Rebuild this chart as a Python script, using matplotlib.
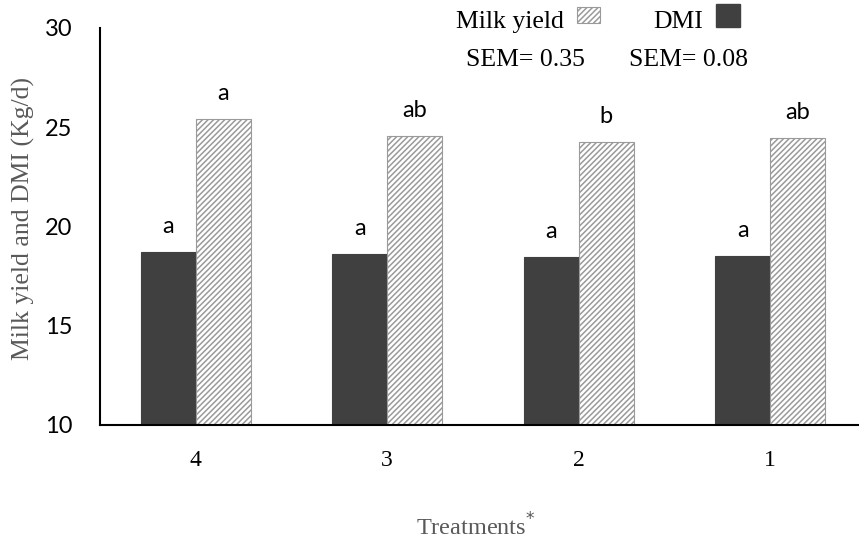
import numpy as np
import matplotlib.pyplot as plt
from matplotlib.patches import Rectangle

# values
treatments = ['4', '3', '2', '1']
dmi = [18.70, 18.60, 18.46, 18.50]
milk_yield = [25.41, 24.55, 24.26, 24.43]
dmi_letters = ['a', 'a', 'a', 'a']
milk_letters = ['a', 'ab', 'b', 'ab']
sem_milk = 0.35
sem_dmi = 0.08

W, H = 859, 541
fig = plt.figure(figsize=(W / 100, H / 100), dpi=100)


def fx(px):
    return px / W


def fy(py):
    return 1 - py / H


ax = fig.add_axes([fx(100), fy(424.5), fx(766), (424.5 - 28) / H])

x = np.arange(len(treatments))
w = 0.286
dark = '#404040'

plt.rcParams['hatch.color'] = '#333333'
plt.rcParams['hatch.linewidth'] = 1.1
ax.bar(x - w / 2, dmi, w, color=dark, edgecolor=dark, linewidth=0.8)
ax.bar(x + w / 2, milk_yield, w, color='white', edgecolor='#9a9a9a',
       hatch='//////', linewidth=0.8)

for xi, v, t in zip(x - w / 2, dmi, dmi_letters):
    ax.annotate(t, (xi, v), xytext=(0, 11), textcoords='offset points',
                ha='center', va='bottom', fontsize=17, family='Lato')
for xi, v, t in zip(x + w / 2, milk_yield, milk_letters):
    ax.annotate(t, (xi, v), xytext=(0, 11), textcoords='offset points',
                ha='center', va='bottom', fontsize=17, family='Lato')

ax.set_xlim(-0.5, 3.5)
ax.set_ylim(10, 30)
ax.set_yticks([10, 15, 20, 25, 30])
ax.set_xticks(x)
ax.set_xticklabels(treatments, family='Liberation Serif', fontsize=17)
for lab in ax.get_yticklabels():
    lab.set_family('Lato')
    lab.set_fontsize(17)
ax.tick_params(axis='y', length=0, pad=20)
ax.tick_params(axis='x', length=0, pad=18)

for s in ['top', 'right']:
    ax.spines[s].set_visible(False)
for s in ['left', 'bottom']:
    ax.spines[s].set_linewidth(1.5)
    ax.spines[s].set_color('black')

# axis titles
fig.text(fx(23), fy(219), 'Milk yield and DMI (Kg/d)', rotation=90,
         ha='center', va='center', color='#595959', fontsize=18.5,
         family='Liberation Serif')
fig.text(fx(476), fy(527), 'Treatments$^{*}$', ha='center', va='center',
         color='#595959', fontsize=17.5, family='Liberation Serif')

# legend drawn by hand, as in the reference
serif = dict(family='Liberation Serif', fontsize=18.5, color='black')
fig.text(fx(564), fy(28), 'Milk yield', ha='right', va='baseline', **serif)
fig.patches.append(Rectangle((fx(577), fy(23)), fx(23), 16 / H,
                             transform=fig.transFigure, facecolor='white',
                             edgecolor='#9a9a9a', hatch='//////', linewidth=0.8))
fig.text(fx(653), fy(28), 'DMI', ha='left', va='baseline', **serif)
fig.patches.append(Rectangle((fx(716), fy(27)), fx(24), 23 / H,
                             transform=fig.transFigure, facecolor=dark,
                             edgecolor=dark))
fig.text(fx(466), fy(66), f'SEM= {sem_milk:.2f}', ha='left', va='baseline', **serif)
fig.text(fx(629), fy(66), f'SEM= {sem_dmi:.2f}', ha='left', va='baseline', **serif)

fig.savefig('out.png', dpi=100)
